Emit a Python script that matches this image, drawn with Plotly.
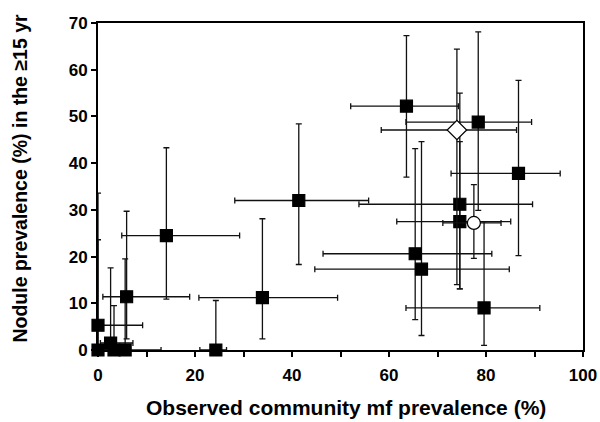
import plotly.graph_objects as go

# Filled squares: observed mf prevalence vs nodule prevalence with 95% CI bounds
sq_x    = [0.0, 0.0, 2.6, 3.3, 5.6, 5.9, 14.1, 24.3, 33.9, 41.4, 63.6, 65.4, 66.7, 74.6, 74.6, 78.4, 79.6, 86.7]
sq_y    = [5.3, 0.0, 1.5, 0.0, 0.0, 11.4, 24.5, 0.0, 11.2, 32.0, 52.2, 20.6, 17.3, 31.2, 27.5, 48.8, 9.0, 37.8]
sq_x_lo = [0.0, 0.0, 0.5, 0.5, 1.5, 1.0, 4.9, 21.0, 20.8, 28.2, 52.1, 46.4, 44.7, 53.8, 61.6, 63.5, 63.5, 72.8]
sq_x_hi = [9.2, 0.0, 7.2, 5.0, 13.0, 18.9, 29.2, 26.5, 49.4, 55.8, 74.3, 81.2, 84.8, 89.6, 85.1, 89.4, 91.1, 95.3]
sq_y_lo = [0.0, 0.0, 0.0, 0.0, 0.0, 2.4, 10.9, 0.0, 2.4, 18.3, 37.0, 6.5, 3.1, 13.1, 13.1, 29.9, 1.0, 20.2]
sq_y_hi = [23.6, 33.6, 17.6, 9.5, 19.5, 29.7, 43.3, 10.6, 28.1, 48.4, 67.3, 43.1, 44.6, 55.0, 44.6, 68.1, 27.5, 57.7]

# Open diamond
dm_x, dm_y = [74.0], [47.1]
dm_x_lo, dm_x_hi = [58.4], [86.3]
dm_y_lo, dm_y_hi = [14.0], [64.4]

# Open circle
ci_x, ci_y = [77.5], [27.2]
ci_x_lo, ci_x_hi = [71.1], [83.1]
ci_y_lo, ci_y_hi = [19.6], [35.4]

x_tickvals = [0, 10, 20, 30, 40, 50, 60, 70, 80, 90, 100]
x_ticktext = ["0", "", "20", "", "40", "", "60", "", "80", "", "100"]
y_tickvals = [0, 10, 20, 30, 40, 50, 60, 70]

x_title = "Observed community mf prevalence (%)"
y_title = "Nodule prevalence (%) in the \u226515 yr"

FONT = "Liberation Sans, Arial, sans-serif"


def errs(v, lo, hi):
    return [h - a for a, h in zip(v, hi)], [a - l for a, l in zip(v, lo)]


def eb(plus, minus):
    return dict(type="data", symmetric=False, array=plus, arrayminus=minus,
                color="#111111", thickness=1.3, width=3)


fig = go.Figure()

for xs, ys, xl, xh, yl, yh, sym, fill, size in [
    (sq_x, sq_y, sq_x_lo, sq_x_hi, sq_y_lo, sq_y_hi, "square", "black", 12),
    (dm_x, dm_y, dm_x_lo, dm_x_hi, dm_y_lo, dm_y_hi, "diamond", "white", 15),
    (ci_x, ci_y, ci_x_lo, ci_x_hi, ci_y_lo, ci_y_hi, "circle", "white", 13),
]:
    xp, xm = errs(xs, xl, xh)
    yp, ym = errs(ys, yl, yh)
    fig.add_trace(go.Scatter(
        x=xs, y=ys, mode="markers",
        marker=dict(symbol=sym, size=size, color=fill, line=dict(color="black", width=1.2)),
        error_x=eb(xp, xm), error_y=eb(yp, ym),
        cliponaxis=False, showlegend=False, hoverinfo="skip",
    ))

axis_common = dict(
    ticks="outside", ticklen=5, tickwidth=1.5, tickcolor="black",
    showline=True, linecolor="black", linewidth=2, mirror=True,
    showgrid=False, zeroline=False, automargin=False,
    tickfont=dict(family=FONT, size=17, weight="bold", color="black"),
)

fig.update_layout(
    width=600, height=422,
    margin=dict(l=98, r=17, t=23, b=71.5),
    paper_bgcolor="white", plot_bgcolor="white",
    font=dict(family=FONT, color="black", size=17, weight="bold"),
    xaxis=dict(range=[0, 100], tickvals=x_tickvals, ticktext=x_ticktext,
               ticklabelstandoff=4, **axis_common),
    yaxis=dict(range=[0, 70], tickvals=y_tickvals, **axis_common),
    annotations=[
        dict(text=x_title, xref="paper", yref="paper", x=0.511, y=-0.175,
             xanchor="center", yanchor="middle", showarrow=False,
             font=dict(family=FONT, size=21, weight="bold", color="black")),
        dict(text=y_title, xref="paper", yref="paper", x=-0.161, y=0.527,
             xanchor="center", yanchor="middle", textangle=-90, showarrow=False,
             font=dict(family=FONT, size=19.5, weight="bold", color="black")),
    ],
)

fig.write_html("out.html", config={"displayModeBar": False},
               post_script="document.body.style.margin='0';document.body.style.overflow='hidden';")
